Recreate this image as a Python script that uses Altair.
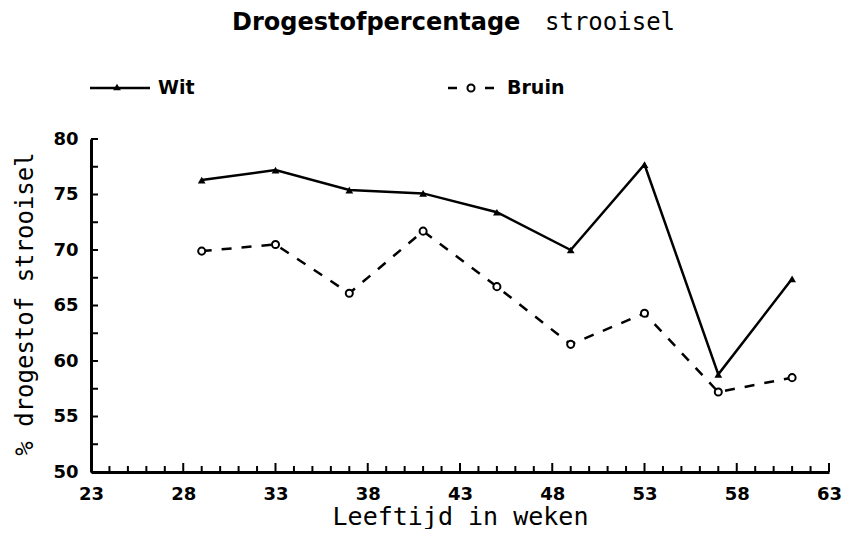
import altair as alt
import pandas as pd

# ---- data ----
weeks = [29, 33, 37, 41, 45, 49, 53, 57, 61]
wit = [76.3, 77.2, 75.4, 75.1, 73.4, 70.0, 77.7, 58.8, 67.4]
bruin = [69.9, 70.5, 66.1, 71.7, 66.7, 61.5, 64.3, 57.2, 58.5]

x_major = [23, 28, 33, 38, 43, 48, 53, 58, 63]
x_minor = [w for w in range(23, 64) if w not in x_major]
y_major = [50, 55, 60, 65, 70, 75, 80]
y_minor = [52.5, 57.5, 62.5, 67.5, 72.5, 77.5]

W, H = 738, 333
FONT = "DejaVu Sans"
MONO = "DejaVu Sans Mono"

df_w = pd.DataFrame({"week": weeks, "pct": wit})
df_b = pd.DataFrame({"week": weeks, "pct": bruin})
one = pd.DataFrame({"a": [0]})

xs = alt.Scale(domain=[23, 63], nice=False, zero=False)
ys = alt.Scale(domain=[50, 80], nice=False, zero=False)

xaxis = alt.Axis(
    values=x_major, ticks=False, grid=False, domainWidth=3, domainColor="black",
    labelFont=FONT, labelFontWeight="bold", labelFontSize=18, labelColor="black",
    labelPadding=13, labelOverlap=False, labelFlush=False,
    title="Leeftijd in weken", titleFont=MONO, titleFontSize=25,
    titleFontWeight="normal", titleColor="black", titleY=52, titleBaseline="alphabetic",
)
yaxis = alt.Axis(
    values=y_major, ticks=False, grid=False, domainWidth=3, domainColor="black",
    labelFont=FONT, labelFontWeight="bold", labelFontSize=18, labelColor="black",
    labelPadding=13, labelOverlap=False, labelFlush=False,
    title="% drogestof strooisel", titleFont=MONO, titleFontSize=24,
    titleFontWeight="normal", titleColor="black", titleX=-66, titleY=H / 2 - 2,
    titleAngle=-90, titleAlign="center", titleBaseline="middle",
)

wit_line = alt.Chart(df_w).mark_line(color="black", strokeWidth=2.5).encode(
    x=alt.X("week:Q", scale=xs, axis=xaxis),
    y=alt.Y("pct:Q", scale=ys, axis=yaxis),
)
wit_pts = alt.Chart(df_w).mark_point(
    shape="triangle-up", filled=True, color="black", size=60, opacity=1
).encode(x=alt.X("week:Q", scale=xs), y=alt.Y("pct:Q", scale=ys))

bruin_line = alt.Chart(df_b).mark_line(
    color="black", strokeWidth=2.5, strokeDash=[10, 10]
).encode(x=alt.X("week:Q", scale=xs), y=alt.Y("pct:Q", scale=ys))
bruin_pts = alt.Chart(df_b).mark_point(
    shape="circle", filled=True, fill="white", stroke="black", strokeWidth=2,
    size=50, opacity=1
).encode(x=alt.X("week:Q", scale=xs), y=alt.Y("pct:Q", scale=ys))

# inward tick marks
xt_major = alt.Chart(pd.DataFrame({"t": x_major})).mark_tick(
    orient="vertical", size=9, thickness=2, color="black", opacity=1
).encode(x=alt.X("t:Q", scale=xs), y=alt.value(H - 4.5))
xt_minor = alt.Chart(pd.DataFrame({"t": x_minor})).mark_tick(
    orient="vertical", size=6, thickness=2, color="black", opacity=1
).encode(x=alt.X("t:Q", scale=xs), y=alt.value(H - 3))
yt = alt.Chart(pd.DataFrame({"t": y_major + y_minor})).mark_tick(
    orient="horizontal", size=7, thickness=2, color="black", opacity=1
).encode(y=alt.Y("t:Q", scale=ys), x=alt.value(3.5))

# title
t1 = alt.Chart(one).mark_text(
    font=FONT, fontSize=24, fontWeight="bold", align="left", baseline="alphabetic", color="black"
).encode(x=alt.value(141), y=alt.value(-109), text=alt.value("Drogestofpercentage"))
t2 = alt.Chart(one).mark_text(
    font=MONO, fontSize=24, align="left", baseline="alphabetic", color="black"
).encode(x=alt.value(454), y=alt.value(-109), text=alt.value("strooisel"))

# legend
lg_w_line = alt.Chart(one).mark_rule(color="black", strokeWidth=2.5).encode(
    x=alt.value(-1), x2=alt.value(59), y=alt.value(-51))
lg_w_pt = alt.Chart(one).mark_point(
    shape="triangle-up", filled=True, color="black", size=60, opacity=1
).encode(x=alt.value(26), y=alt.value(-52))
lg_w_txt = alt.Chart(one).mark_text(
    font=FONT, fontSize=19, fontWeight="bold", align="left", baseline="middle", color="black"
).encode(x=alt.value(67), y=alt.value(-51), text=alt.value("Wit"))

lg_b_d1 = alt.Chart(one).mark_rule(color="black", strokeWidth=2.5).encode(
    x=alt.value(357), x2=alt.value(366), y=alt.value(-51))
lg_b_pt = alt.Chart(one).mark_point(
    shape="circle", filled=True, fill="white", stroke="black", strokeWidth=2, size=50, opacity=1
).encode(x=alt.value(380), y=alt.value(-51))
lg_b_d2 = alt.Chart(one).mark_rule(color="black", strokeWidth=2.5).encode(
    x=alt.value(394), x2=alt.value(403), y=alt.value(-51))
lg_b_txt = alt.Chart(one).mark_text(
    font=FONT, fontSize=19, fontWeight="bold", align="left", baseline="middle", color="black"
).encode(x=alt.value(416), y=alt.value(-51), text=alt.value("Bruin"))

chart = alt.layer(
    wit_line, bruin_line, xt_major, xt_minor, yt, wit_pts, bruin_pts,
    t1, t2, lg_w_line, lg_w_pt, lg_w_txt, lg_b_d1, lg_b_pt, lg_b_d2, lg_b_txt,
).properties(
    width=W, height=H,
    autosize=alt.AutoSizeParams(type="none"),
    padding={"left": 83, "top": 131, "right": 12, "bottom": 57},
    background="white",
).configure_view(strokeWidth=0, stroke="transparent")

chart.save("out.html", embed_options={"renderer": "svg", "actions": False})
